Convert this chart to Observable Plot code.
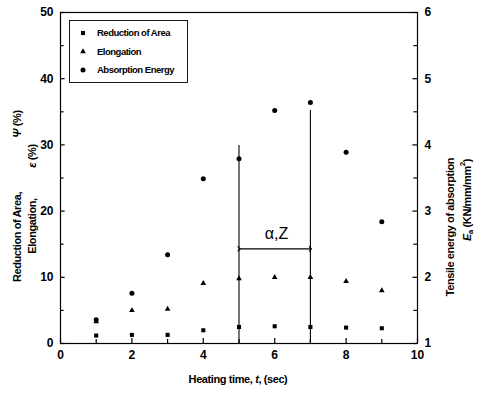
<!DOCTYPE html>
<html><head><meta charset="utf-8">
<script src="https://cdn.jsdelivr.net/npm/d3@7"></script>
<script src="https://cdn.jsdelivr.net/npm/@observablehq/plot@0.6"></script>
<style>body{margin:0;background:#fff;} svg{display:block;}</style>
</head><body><div id="chart"></div>
<script>
// ---- data ----
const time = [1, 2, 3, 4, 5, 6, 7, 8, 9];                       // heating time, sec
const reductionOfArea = [1.2, 1.3, 1.3, 2.0, 2.5, 2.6, 2.5, 2.4, 2.3]; // %
const elongation = [3.3, 5.0, 5.2, 9.1, 9.8, 10.0, 10.0, 9.4, 8.0];    // %
const absorptionEnergy = [1.36, 1.76, 2.34, 3.49, 3.79, 4.52, 4.64, 3.89, 2.84]; // KN/mm/mm^2 (right axis)

const xTickLabels = [0, 2, 4, 6, 8, 10];
const xMinorTicks = [1, 3, 5, 7, 9];
const leftTickLabels = [0, 10, 20, 30, 40, 50];
const leftMinorTicks = [5, 15, 25, 35, 45];
const rightTickLabels = [1, 2, 3, 4, 5, 6];

// phase (α, Z) annotation
const phaseBoundX = [5, 7];
const phaseBoundTop = [29.9, 35.2];   // in left-axis units
const phaseArrowY = 14.3;
const phaseLabel = "α,Z";

const seriesNames = ["Reduction of Area", "Elongation", "Absorption Energy"];

// right axis (1..6) mapped onto left axis (0..50)
const toLeft = e => (e - 1) * 10;

const rows = time.map((t, i) => ({t, area: reductionOfArea[i], elong: elongation[i], energy: toLeft(absorptionEnergy[i])}));
const bounds = phaseBoundX.map((x, i) => ({x, top: phaseBoundTop[i]}));

const font = "'Liberation Sans', Arial, sans-serif";
const allX = [...xTickLabels, ...xMinorTicks];
const allY = [...leftTickLabels, ...leftMinorTicks];

const svg = Plot.plot({
  width: 478, height: 394,
  marginLeft: 60, marginRight: 61, marginTop: 12, marginBottom: 51,
  style: {fontFamily: font, background: "#fff", color: "black"},
  x: {domain: [0, 10]},
  y: {domain: [0, 50]},
  marks: [
    Plot.frame({stroke: "black", strokeWidth: 1.2}),
    Plot.axisX({ticks: xTickLabels, tickSize: 0, tickPadding: 7, label: null, fontSize: 12, fontWeight: "bold"}),
    Plot.axisY({anchor: "left", ticks: leftTickLabels, tickSize: 0, tickPadding: 7, label: null, fontSize: 12, fontWeight: "bold"}),
    Plot.axisY({anchor: "right", ticks: leftTickLabels, tickSize: 0, tickPadding: 7, label: null, fontSize: 12, fontWeight: "bold",
                tickFormat: (d, i) => String(rightTickLabels[i])}),
    // inward ticks
    Plot.ruleX(allX, {x: d => d, y1: 0, y2: d => xTickLabels.includes(d) ? 0.75 : 0.6, stroke: "black", strokeWidth: 1.2}),
    Plot.ruleY(allY, {y: d => d, x1: 0, x2: d => leftTickLabels.includes(d) ? 0.13 : 0.1, stroke: "black", strokeWidth: 1.2}),
    Plot.ruleY(allY, {y: d => d, x1: 10, x2: d => leftTickLabels.includes(d) ? 9.87 : 9.9, stroke: "black", strokeWidth: 1.2}),
    // phase annotation
    Plot.ruleX(bounds, {x: "x", y1: 0, y2: "top", stroke: "black", strokeWidth: 1.1}),
    Plot.link([{x1: phaseBoundX[0], x2: phaseBoundX[1], y: phaseArrowY}], {x1: "x1", x2: "x2", y1: "y", y2: "y",
      stroke: "black", strokeWidth: 1.1, markerStart: "arrow", markerEnd: "arrow"}),
    Plot.text([phaseLabel], {x: (phaseBoundX[0] + phaseBoundX[1]) / 2 + 0.05, y: phaseArrowY + 2.3, text: d => d,
      fontSize: 16, fill: "black", fontFamily: font}),
    // data
    Plot.dot(rows, {x: "t", y: "area", symbol: "square", r: 2.3, fill: "black", stroke: "none"}),
    Plot.dot(rows, {x: "t", y: "elong", symbol: "triangle", r: 2.1, fill: "black", stroke: "none"}),
    Plot.dot(rows, {x: "t", y: "energy", symbol: "circle", r: 2.5, fill: "black", stroke: "none"})
  ]
});

const s = d3.select(svg);

// legend
const lg = s.append("g").attr("font-family", font).attr("font-weight", "bold").attr("font-size", 9.5)
  .attr("text-anchor", "start");
lg.append("rect").attr("x", 69.5).attr("y", 20.5).attr("width", 118).attr("height", 62)
  .attr("fill", "white").attr("stroke", "black").attr("stroke-width", 0.9);
const symbols = [d3.symbolSquare, d3.symbolTriangle, d3.symbolCircle];
const sizes = [2.3, 2.1, 2.5];
seriesNames.forEach((name, i) => {
  const cy = 33 + i * 18.5;
  lg.append("path").attr("d", d3.symbol(symbols[i], Math.PI * sizes[i] * sizes[i])())
    .attr("transform", `translate(83,${cy})`).attr("fill", "black");
  lg.append("text").attr("x", 97).attr("y", cy).attr("dy", "0.35em").attr("text-anchor", "start")
    .attr("letter-spacing", -0.5).text(name);
});

// axis titles
const t = s.append("g").attr("font-family", font).attr("font-weight", "bold").attr("font-size", 11).attr("fill", "black");
function rot(x, y, build) {
  const el = t.append("text").attr("transform", `translate(${x},${y}) rotate(-90)`)
    .attr("text-anchor", "middle").attr("dominant-baseline", "central").attr("letter-spacing", -0.4);
  build(el);
  return el;
}
rot(17, 237, e => e.text("Reduction of Area,"));
rot(17, 124, e => { e.append("tspan").attr("font-style", "italic").text("Ψ"); e.append("tspan").text(" (%)"); });
rot(32, 226, e => e.text("Elongation,"));
rot(32, 156, e => { e.append("tspan").attr("font-style", "italic").text("ε"); e.append("tspan").text(" (%)"); });

rot(450, 227, e => e.text("Tensile energy of absorption"));
rot(467, 200, e => {
  e.append("tspan").attr("font-style", "italic").text("E");
  e.append("tspan").attr("font-size", 8).attr("dy", 3).text("a");
  e.append("tspan").attr("dy", -3).text(" (KN/mm/mm");
  e.append("tspan").attr("font-size", 8).attr("dy", -5).text("2");
  e.append("tspan").attr("dy", 5).text(")");
});

t.append("text").attr("x", 238).attr("y", 379).attr("text-anchor", "middle").attr("dominant-baseline", "central")
  .attr("letter-spacing", -0.4)
  .call(e => {
    e.append("tspan").text("Heating time, ");
    e.append("tspan").attr("font-style", "italic").text("t");
    e.append("tspan").text(", (sec)");
  });

document.getElementById("chart").appendChild(svg);
</script>
</body></html>
